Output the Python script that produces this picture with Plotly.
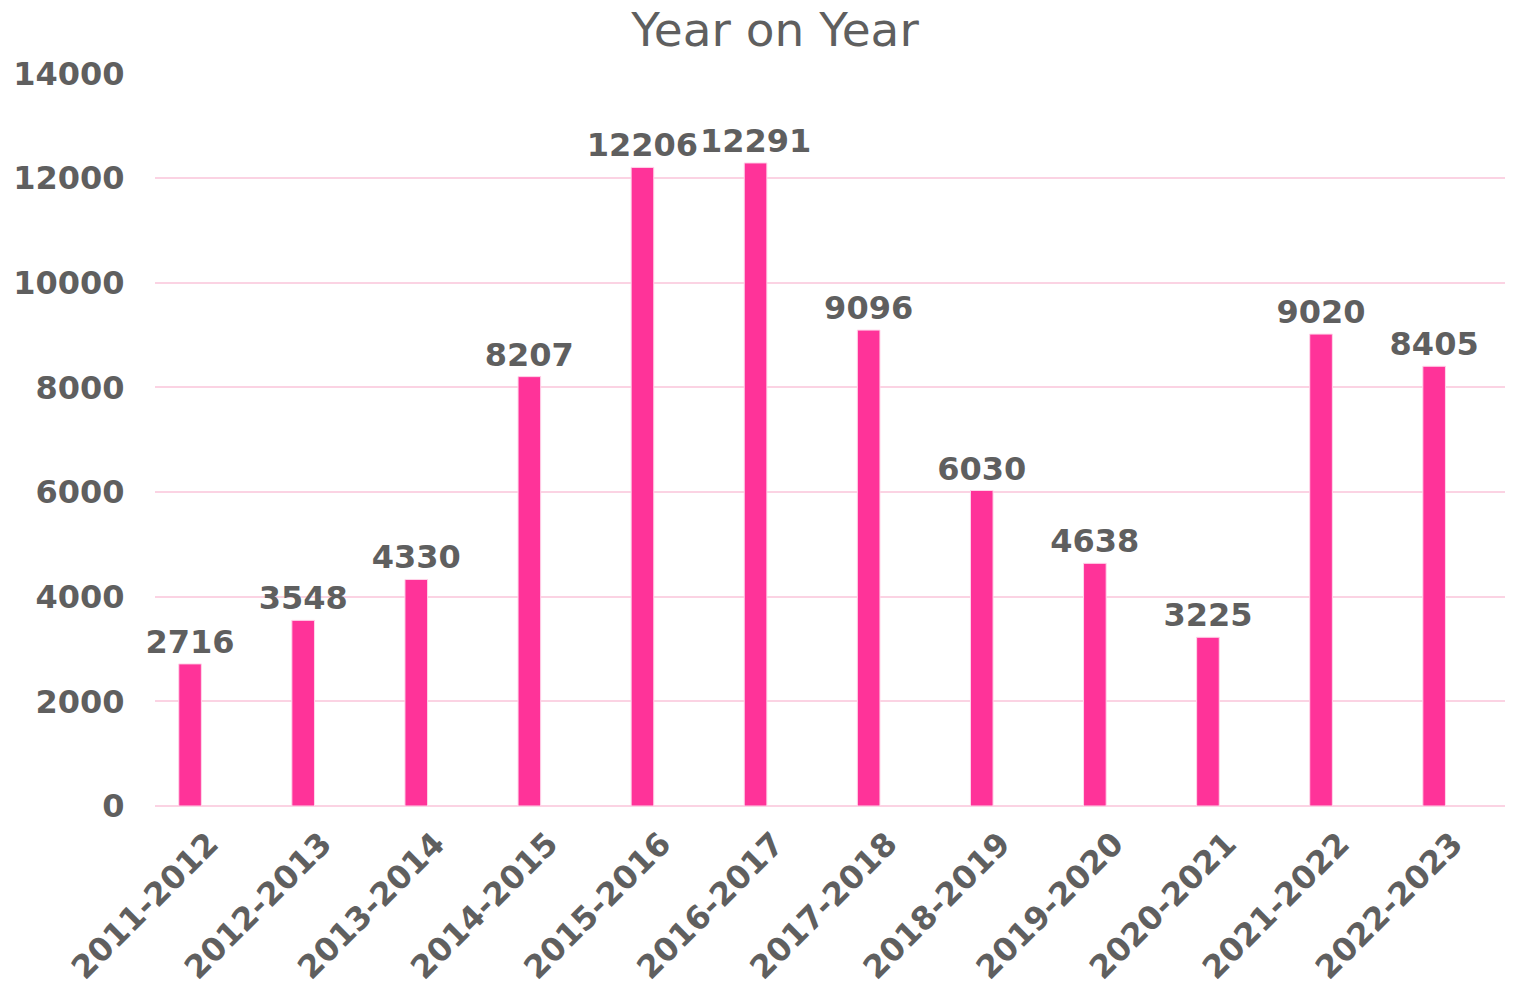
import plotly.graph_objects as go

categories = ["2011-2012", "2012-2013", "2013-2014", "2014-2015", "2015-2016", "2016-2017",
              "2017-2018", "2018-2019", "2019-2020", "2020-2021", "2021-2022", "2022-2023"]
values = [2716, 3548, 4330, 8207, 12206, 12291, 9096, 6030, 4638, 3225, 9020, 8405]
y_ticks = [0, 2000, 4000, 6000, 8000, 10000, 12000, 14000]

FONT = "DejaVu Sans"
GRAY = "#5f5f5f"
GRID = "#fbd3e3"

fig = go.Figure(go.Bar(
    x=categories, y=values,
    marker=dict(color="#ff3399", line=dict(color="#ffd6ea", width=1)),
    text=[str(v) for v in values], textposition="outside", constraintext="none",
    textfont=dict(family=FONT, size=32, color=GRAY, weight="bold"),
    cliponaxis=False,
))

fig.update_layout(
    width=1513, height=992,
    paper_bgcolor="white", plot_bgcolor="white",
    margin=dict(l=147, r=0, t=65, b=194, autoexpand=False),
    bargap=0.8,
    showlegend=False,
    title=dict(text="Year on Year", x=767/1513, xanchor="center", xref="container",
               y=1 - 22/992, yanchor="middle", yref="container",
               font=dict(family=FONT, size=47, color=GRAY)),
)
fig.update_yaxes(range=[0, 14010], tickvals=y_ticks, ticktext=[str(t) for t in y_ticks],
                 showgrid=True, gridcolor=GRID, gridwidth=2,
                 zeroline=True, zerolinecolor=GRID, zerolinewidth=2,
                 ticks="outside", ticklen=23, tickcolor="rgba(0,0,0,0)",
                 tickfont=dict(family=FONT, size=32, color=GRAY, weight="bold"),
                 automargin=False, showline=False)
fig.update_xaxes(tickangle=-45, ticks="outside", ticklen=5, tickcolor="rgba(0,0,0,0)",
                 range=[-0.31, 11.768], ticklabelshift=19,
                 tickfont=dict(family=FONT, size=32, color=GRAY, weight="bold"),
                 automargin=False, showline=False, showgrid=False)

fig.write_html("out.html")
